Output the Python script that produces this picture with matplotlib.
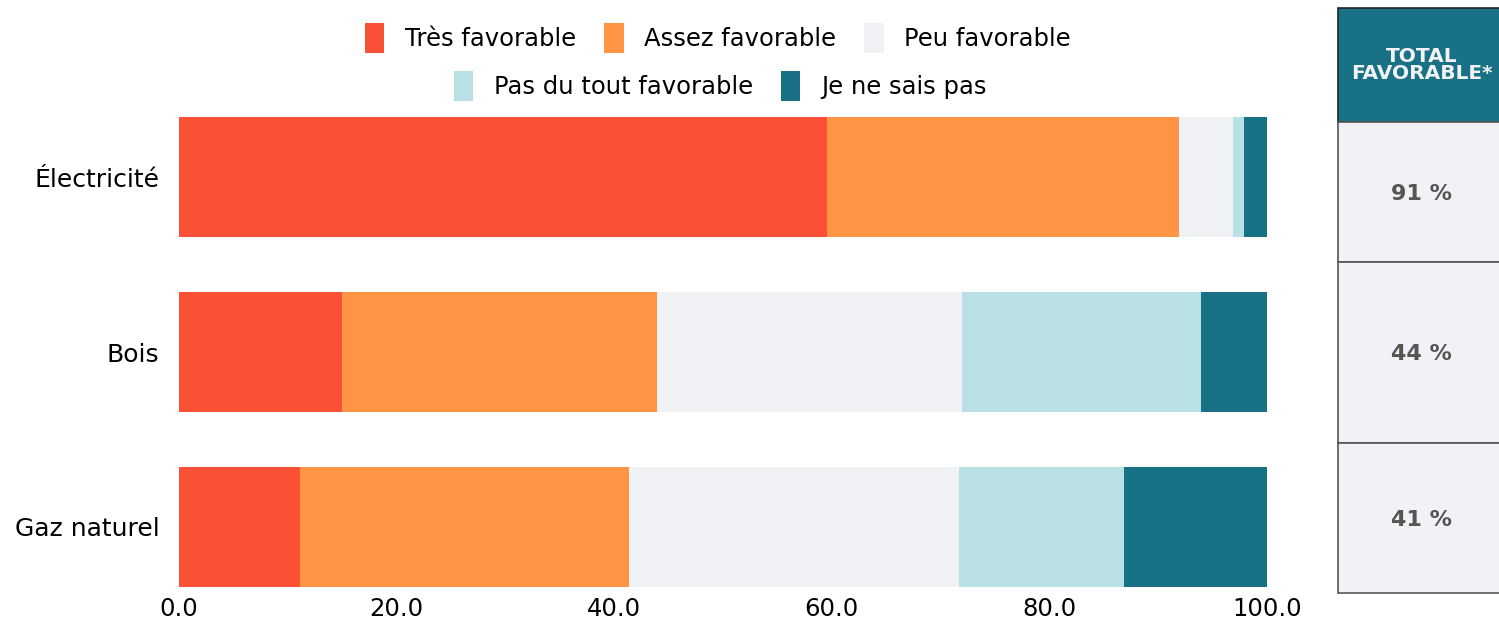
import matplotlib.pyplot as plt
from matplotlib.patches import Patch, Rectangle
from matplotlib.ticker import FormatStrFormatter
import numpy as np

categories = ["Électricité", "Bois", "Gaz naturel"]
series_names = ["Très favorable", "Assez favorable", "Peu favorable",
                "Pas du tout favorable", "Je ne sais pas"]
tres = [59.6, 15.0, 11.1]
assez = [32.3, 28.9, 30.3]
peu = [5.0, 28.1, 30.3]
pas_du_tout = [1.0, 21.9, 15.2]
nsp = [2.1, 6.1, 13.1]
totals = [91, 44, 41]

colors = ["#FA5035", "#FF9444", "#F1F2F6", "#B8E0E5", "#197185"]
values = [tres, assez, peu, pas_du_tout, nsp]

plt.rcParams["font.family"] = ["DejaVu Sans"]
W, H = 1499, 620
fig = plt.figure(figsize=(W / 100, H / 100), dpi=100)
ax = fig.add_axes([179 / W, (H - 587) / H, (1267 - 179) / W, (587 - 117) / H])

y = np.arange(len(categories))
left = np.zeros(len(categories))
for vals, col, name in zip(values, colors, series_names):
    ax.barh(y, vals, left=left, height=0.686, color=col, label=name)
    left += np.array(vals)

ax.set_xlim(0, 100)
ax.set_ylim(len(categories) - 1 + 0.343, -0.343)
ax.set_yticks(y)
ax.set_yticklabels(categories, fontsize=18)
ax.set_xticks([0, 20, 40, 60, 80, 100])
ax.xaxis.set_major_formatter(FormatStrFormatter("%.1f"))
ax.tick_params(axis="x", length=0, pad=7, labelsize=17.5)
ax.tick_params(axis="y", length=0, pad=14)
for s in ax.spines.values():
    s.set_visible(False)

handles = [Patch(facecolor=c, edgecolor="none") for c in colors]
leg_kw = dict(frameon=False, fontsize=17.5, handlelength=0.8, handleheight=1.5,
              handletextpad=0.85, columnspacing=1.15, borderaxespad=0, loc="center")
leg1 = fig.legend(handles[:3], series_names[:3], ncol=3,
                  bbox_to_anchor=(718 / W, 1 - 38 / H), **leg_kw)
leg2 = fig.legend(handles[3:], series_names[3:], ncol=2,
                  bbox_to_anchor=(720 / W, 1 - 86 / H), **leg_kw)

# side table "total favorable"
tab = fig.add_axes([1338 / W, (H - 594) / H, (W - 1338) / W, (594 - 7) / H])
tab.set_xlim(0, 1)
tab.set_ylim(594, 7)
tab.axis("off")
rows = [(122, 262), (262, 443), (443, 593)]
tab.add_patch(Rectangle((0, 8), 1.2, 114, facecolor="#197185",
                        edgecolor="#222222", lw=1.2, clip_on=False))
tab.text(0.52, 65, "TOTAL\nFAVORABLE*", ha="center", va="center", color="#F1F2F6",
         fontsize=14.5, fontweight="heavy", linespacing=0.9)
for (top, bot), t in zip(rows, totals):
    tab.add_patch(Rectangle((0, top), 1.2, bot - top, facecolor="#F1F2F6",
                            edgecolor="#555555", lw=1.2, clip_on=False))
    tab.text(0.52, (top + bot) / 2 + 2, f"{t} %", ha="center", va="center",
             color="#555555", fontsize=16, fontweight="heavy")

fig.savefig("out.png", dpi=100)
